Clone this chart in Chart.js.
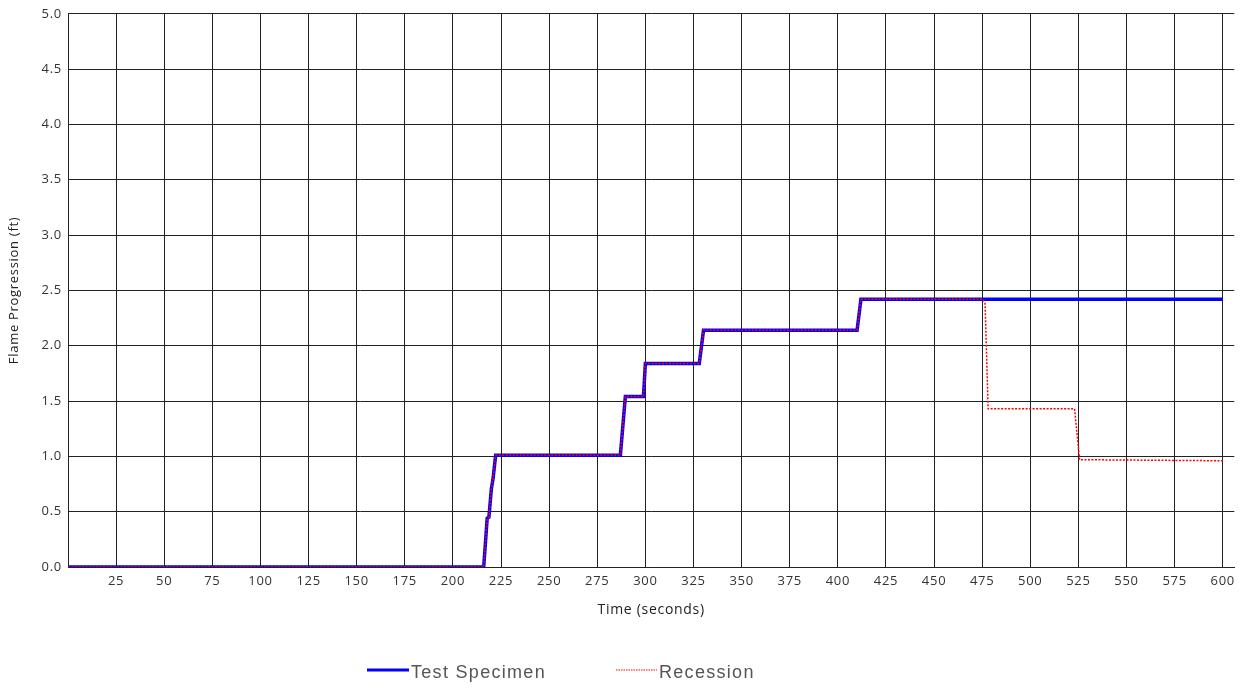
<!DOCTYPE html>
<html>
<head>
<meta charset="utf-8">
<script src="https://cdn.jsdelivr.net/npm/chart.js@4/dist/chart.umd.min.js"></script>
<style>
  html, body { margin: 0; padding: 0; background: #fff; }
  #wrap { width: 1241px; height: 688px; position: relative; }
</style>
</head>
<body>
<div id="wrap"><canvas id="flameChart" width="1241" height="688"></canvas></div>
<script>
// values
const specimenTimes  = [0, 216, 217.8, 218.7, 220, 220.8, 222.2, 287, 289.6, 299, 300, 328, 330.2, 410, 412, 600];
const specimenValues = [0, 0, 0.44, 0.45, 0.71, 0.79, 1.01, 1.01, 1.54, 1.54, 1.84, 1.84, 2.14, 2.14, 2.42, 2.42];

const recessionTimes  = [0, 216, 217.8, 218.7, 220, 220.8, 222.2, 287, 289.6, 299, 300, 328, 330.2, 410, 412, 475.4, 476.5, 478.1, 523, 525.6, 600];
const recessionValues = [0, 0, 0.44, 0.45, 0.71, 0.79, 1.01, 1.01, 1.54, 1.54, 1.84, 1.84, 2.14, 2.14, 2.42, 2.42, 2.38, 1.43, 1.43, 0.97, 0.96];

const xTickValues = [0, 25, 50, 75, 100, 125, 150, 175, 200, 225, 250, 275, 300,
                     325, 350, 375, 400, 425, 450, 475, 500, 525, 550, 575, 600];
const yTickLabels = ['0.0', '0.5', '1.0', '1.5', '2.0', '2.5', '3.0', '3.5', '4.0', '4.5', '5.0'];
const legendLabels = ['Test Specimen', 'Recession'];

const fontFamily = '"Open Sans", sans-serif';

function toPoints(xs, ys) {
    return xs.map((x, i) => ({ x: x, y: ys[i] }));
}

// the original text is a bit spaced out
const spacing = {
    id: 'spacing',
    beforeLayout(chart) { chart.ctx.letterSpacing = '0.7px'; },
    beforeDraw(chart) { chart.ctx.letterSpacing = '0.7px'; }
};

// legend drawn at the bottom, like the original
const bottomLegend = {
    id: 'bottomLegend',
    afterDraw(chart) {
        const ctx = chart.ctx;
        ctx.save();
        ctx.font = '18px "Liberation Sans", Arial, sans-serif';
        ctx.letterSpacing = '1.3px';
        ctx.fillStyle = '#555';
        ctx.textBaseline = 'middle';

        ctx.strokeStyle = '#0000ff';
        ctx.lineWidth = 3;
        ctx.beginPath();
        ctx.moveTo(367, 670);
        ctx.lineTo(409, 670);
        ctx.stroke();
        ctx.fillText(legendLabels[0], 411, 673);

        ctx.strokeStyle = '#ff0000';
        ctx.lineWidth = 1;
        ctx.setLineDash([1.5, 1]);
        ctx.beginPath();
        ctx.moveTo(616, 670);
        ctx.lineTo(657, 670);
        ctx.stroke();
        ctx.setLineDash([]);
        ctx.fillText(legendLabels[1], 659, 673);
        ctx.restore();
    }
};

new Chart(document.getElementById('flameChart'), {
    type: 'line',
    data: {
        datasets: [{
            label: legendLabels[0],
            data: toPoints(specimenTimes, specimenValues),
            borderColor: '#0000ff',
            borderWidth: 3.5,
            pointRadius: 0,
            tension: 0,
            order: 1
        }, {
            label: legendLabels[1],
            data: toPoints(recessionTimes, recessionValues),
            borderColor: '#ff0000',
            borderWidth: 1.5,
            borderDash: [2, 1.5],
            pointRadius: 0,
            tension: 0,
            order: 0
        }]
    },
    options: {
        responsive: false,
        animation: false,
        layout: { padding: { top: 10, right: 4, left: 0, bottom: 0 } },
        plugins: {
            legend: { display: false },
            tooltip: { enabled: false }
        },
        scales: {
            x: {
                type: 'linear',
                min: 0,
                max: 606,
                afterBuildTicks: (scale) => {
                    scale.ticks = xTickValues.map(v => ({ value: v }));
                },
                afterFit: (scale) => { scale.height = 121; },
                ticks: {
                    autoSkip: false,
                    maxRotation: 0,
                    padding: 6,
                    color: '#333',
                    font: { family: fontFamily, size: 13 },
                    callback: (v) => v === 0 ? '' : v
                },
                grid: { color: '#222', lineWidth: 1, drawTicks: false },
                border: { display: true, color: '#222' },
                title: {
                    display: true,
                    text: 'Time (seconds)',
                    color: '#222',
                    font: { family: fontFamily, size: 14 },
                    padding: { top: 0, bottom: 70 }
                }
            },
            y: {
                min: 0,
                max: 5,
                afterFit: (scale) => { scale.width = 68; },
                ticks: {
                    stepSize: 0.5,
                    padding: 6,
                    color: '#333',
                    font: { family: fontFamily, size: 13 },
                    callback: (v, i) => yTickLabels[i]
                },
                grid: { color: '#222', lineWidth: 1, drawTicks: false },
                border: { display: true, color: '#222' },
                title: {
                    display: true,
                    text: 'Flame Progression (ft)',
                    color: '#222',
                    font: { family: fontFamily, size: 13 },
                    padding: { top: 6, bottom: 0 }
                }
            }
        }
    },
    plugins: [spacing, bottomLegend]
});
</script>
</body>
</html>
